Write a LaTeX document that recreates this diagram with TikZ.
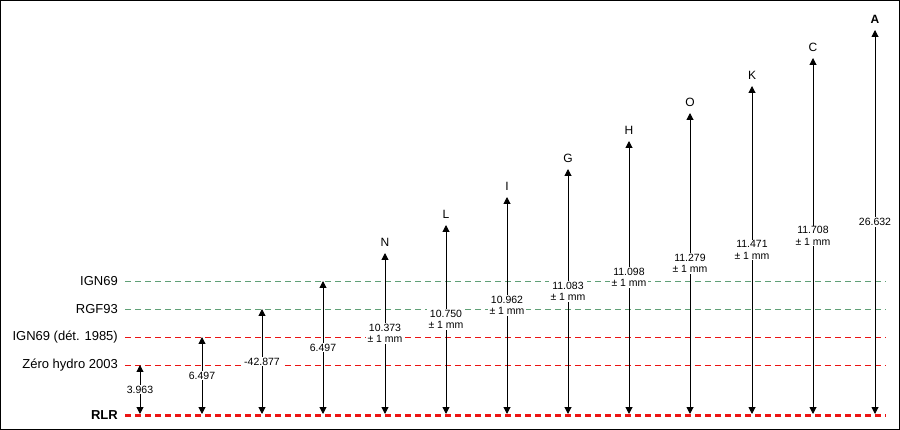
\documentclass[tikz,border=0pt]{standalone}
\usepackage{fontspec}
\setmainfont{Liberation Sans}
\usetikzlibrary{arrows.meta}
\definecolor{niveauvert}{RGB}{96,160,118}
\definecolor{niveaurouge}{RGB}{235,20,20}

\begin{document}
\begin{tikzpicture}[x=1pt,y=-1pt,
	refnom/.style={anchor=east,inner xsep=7pt,inner ysep=1pt,font=\fontsize{13}{15}\selectfont},
	niveau/.style={dash pattern=on 6pt off 4pt,line width=0.9pt},
	mesure/.style={{Triangle[width=7pt,length=7pt]}-{Triangle[width=7pt,length=7pt]},line width=1pt},
	valeur/.style={fill=white,inner xsep=2pt,inner ysep=1pt,align=center,font=\fontsize{10.5}{11.5}\selectfont},
	repere/.style={anchor=south,inner sep=0pt,yshift=6pt,font=\fontsize{12}{14}\selectfont}]
			\useasboundingbox (0,0) rectangle (900,430);
			\draw[line width=1pt] (0.5,0.5) rectangle (899.5,429.5);
			% niveaux de reference
			\node[refnom] (ign) at (125,281) {IGN69};
			\node[refnom] (rgf) at (125,309) {RGF93};
			\node[refnom] (ign85) at (125,337) {IGN69 (dét. 1985)};
			\node[refnom] (zh) at (125,365) {Zéro hydro 2003};
			\node[refnom,font=\fontsize{13}{15}\selectfont\bfseries] (rlr) at (125,415.5) {RLR};
			\coordinate (ignE) at (886,281);
			\coordinate (rgfE) at (886,309);
			\coordinate (ign85E) at (886,337);
			\coordinate (zhE) at (886,365);
			\coordinate (rlrE) at (886,415.5);
			\draw[niveau,niveauvert] (ign.east) -- (ignE);
			\draw[niveau,niveauvert] (rgf.east) -- (rgfE);
			\draw[niveau,niveaurouge] (ign85.east) -- (ign85E);
			\draw[niveau,niveaurouge] (zh.east) -- (zhE);
			\draw[niveau,niveaurouge,line width=2.3pt] (rlr.east) -- (rlrE);
			% hauteurs
			\coordinate (t1) at (140,365); \coordinate (b1) at (140,414);
			\coordinate (t2) at (202,337); \coordinate (b2) at (202,414);
			\coordinate (t3) at (262,309); \coordinate (b3) at (262,414);
			\coordinate (t4) at (323,281); \coordinate (b4) at (323,414);
			\coordinate (t5) at (385,253); \coordinate (b5) at (385,414);
			\coordinate (t6) at (446,225); \coordinate (b6) at (446,414);
			\coordinate (t7) at (507,197); \coordinate (b7) at (507,414);
			\coordinate (t8) at (568,169); \coordinate (b8) at (568,414);
			\coordinate (t9) at (629,141); \coordinate (b9) at (629,414);
			\coordinate (t10) at (690,113); \coordinate (b10) at (690,414);
			\coordinate (t11) at (752,86); \coordinate (b11) at (752,414);
			\coordinate (t12) at (813,58); \coordinate (b12) at (813,414);
			\coordinate (t13) at (875,30); \coordinate (b13) at (875,414);
			\draw[mesure] (b1) -- (t1) node[valeur,midway] (v1) {3.963};
			\draw[mesure] (b2) -- (t2) node[valeur,midway] (v2) {6.497};
			\draw[mesure] (b3) -- (t3) node[valeur,midway] (v3) {-42.877};
			\draw[mesure] (b4) -- (t4) node[valeur,midway] (v4) {6.497};
			\draw[mesure] (b5) -- (t5) node[valeur,midway] (v5) {10.373\\± 1 mm};
			\draw[mesure] (b6) -- (t6) node[valeur,midway] (v6) {10.750\\± 1 mm};
			\draw[mesure] (b7) -- (t7) node[valeur,midway] (v7) {10.962\\± 1 mm};
			\draw[mesure] (b8) -- (t8) node[valeur,midway] (v8) {11.083\\± 1 mm};
			\draw[mesure] (b9) -- (t9) node[valeur,midway] (v9) {11.098\\± 1 mm};
			\draw[mesure] (b10) -- (t10) node[valeur,midway] (v10) {11.279\\± 1 mm};
			\draw[mesure] (b11) -- (t11) node[valeur,midway] (v11) {11.471\\± 1 mm};
			\draw[mesure] (b12) -- (t12) node[valeur,midway] (v12) {11.708\\± 1 mm};
			\draw[mesure] (b13) -- (t13) node[valeur,midway] (v13) {26.632};
			% reperes
			\node[repere] (N) at (t5) {N};
			\node[repere] (L) at (t6) {L};
			\node[repere] (I) at (t7) {I};
			\node[repere] (G) at (t8) {G};
			\node[repere] (H) at (t9) {H};
			\node[repere] (O) at (t10) {O};
			\node[repere] (K) at (t11) {K};
			\node[repere] (C) at (t12) {C};
			\node[repere,font=\fontsize{12}{14}\selectfont\bfseries] (A) at (t13) {A};
		\end{tikzpicture}
\end{document}
